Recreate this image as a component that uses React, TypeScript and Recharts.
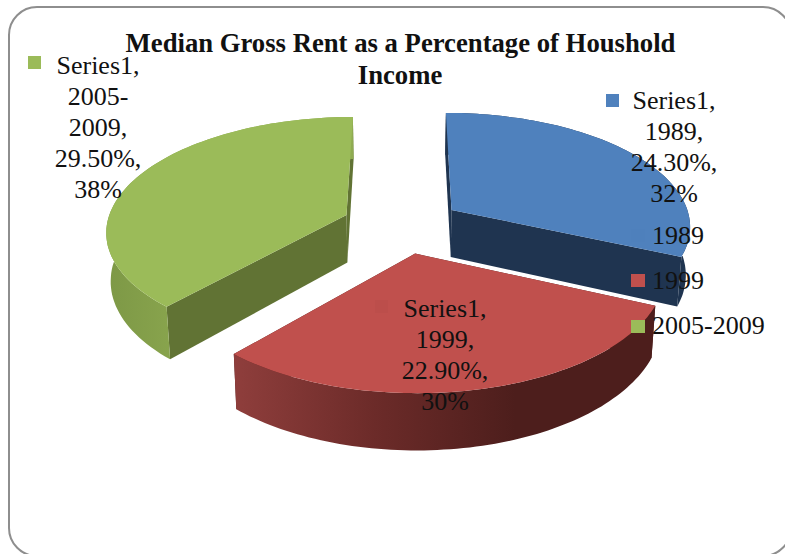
import { PieChart, Pie, Legend, Cell } from 'recharts'

const categories = ['1989', '1999', '2005-2009']
const rentShare = [24.3, 22.9, 29.5]
const shareLabels = ['24.30%', '22.90%', '29.50%']
const percentLabels = ['32%', '30%', '38%']
const seriesName = 'Series1'

const rows = categories.map((name, i) => ({ name, value: rentShare[i] }))

const topColors = ['#4f81bd', '#c0504d', '#9bbb59']
const wallColors = ['#1f3450', '#4d1e1c', '#617334']
const rimStops = [
  ['#1f3450', '#1f3450'],
  ['#8f3e3c', '#6c2b29', '#4d1e1c', '#4d1e1c'],
  ['#7d9846', '#8fab51'],
]
const serif = '"Liberation Serif", "Times New Roman", serif'

// fake 3d: a tilted disc with perspective, slices pulled away from the middle
const EXPLODE = 0.25
const PERSPECTIVE = 0.13
const TILT = 0.472
const DEPTH = 48
const FLOOR_SHRINK = 0.985
const RAD = Math.PI / 180

function Slice3D(props: any) {
  const { cx, cy, outerRadius, startAngle, endAngle, index } = props
  const mid = ((startAngle + endAngle) / 2) * RAD
  const ex = Math.cos(mid) * EXPLODE
  const ey = Math.sin(mid) * EXPLODE

  const project = (deg: number, r: number, floor: boolean) => {
    const X = Math.cos(deg * RAD) * r + ex
    const Y = Math.sin(deg * RAD) * r + ey
    const p = 1 / (1 + PERSPECTIVE * Y)
    let x = outerRadius * X * p
    let y = cy - outerRadius * TILT * Y * p
    if (floor) {
      x *= FLOOR_SHRINK
      y += DEPTH * p
    }
    return [cx + x, y]
  }

  const arc = (floor: boolean) => {
    const pts = []
    const n = 80
    for (let i = 0; i <= n; i++) {
      pts.push(project(startAngle + ((endAngle - startAngle) * i) / n, 1, floor))
    }
    return pts
  }
  const path = (pts: number[][]) =>
    'M' + pts.map((q) => q[0].toFixed(1) + ',' + q[1].toFixed(1)).join('L') + 'Z'

  const top = arc(false)
  const floor = arc(true)
  const apexTop = project(0, 0, false)
  const apexFloor = project(0, 0, true)
  const gradId = 'rim' + index
  const stops = rimStops[index]
  const xs = top.map((q) => q[0])

  return (
    <g>
      <defs>
        <linearGradient
          id={gradId}
          gradientUnits="userSpaceOnUse"
          x1={Math.min(...xs)}
          x2={Math.max(...xs) * (index === 2 ? 0.6 : 1)}
          y1={0}
          y2={0}
        >
          {stops.map((c, i) => (
            <stop key={i} offset={i / (stops.length - 1)} stopColor={c} />
          ))}
        </linearGradient>
      </defs>
      <path d={path([apexTop, top[0], floor[0], apexFloor])} fill={wallColors[index]} />
      <path
        d={path([apexTop, top[top.length - 1], floor[floor.length - 1], apexFloor])}
        fill={wallColors[index]}
      />
      <path d={path([...top, ...[...floor].reverse()])} fill={`url(#${gradId})`} />
      <path d={path([apexTop, ...top])} fill={topColors[index]} />
    </g>
  )
}

const labelSpots = [
  { x: 674, y: 109, sx: 606, sy: 94 },
  { x: 445, y: 317, sx: 375, sy: 300 },
  { x: 98, y: 74, sx: 28, sy: 56 },
]

function SliceLabel(props: any) {
  const i = props.index
  const spot = labelSpots[i]
  const nameLines = categories[i].includes('-')
    ? categories[i].replace('-', '- ').split(' ')
    : [categories[i]]
  const lines = [
    seriesName + ',',
    ...nameLines.map((l, n) => (n === nameLines.length - 1 ? l + ',' : l)),
    shareLabels[i] + ',',
    percentLabels[i],
  ]
  return (
    <g>
      <rect x={spot.sx} y={spot.sy} width={13} height={13} fill={i === 1 ? '#bc4e4b' : topColors[i]} />
      <text x={spot.x} y={spot.y} textAnchor="middle" fontFamily={serif} fontSize={26} fill="#111">
        {lines.map((l, n) => (
          <tspan key={n} x={spot.x} dy={n === 0 ? 0 : 31}>
            {l}
          </tspan>
        ))}
      </text>
    </g>
  )
}

function LegendBox() {
  return (
    <div style={{ fontFamily: serif, fontSize: 26, color: '#111' }}>
      {categories.map((c, i) => (
        <div key={c} style={{ display: 'flex', alignItems: 'center', height: 45.3, lineHeight: '30px' }}>
          <span
            style={{
              width: 14,
              height: 13,
              marginRight: 7,
              background: i === 0 ? '#4e80bc' : topColors[i],
              display: 'inline-block',
            }}
          />
          {c}
        </div>
      ))}
    </div>
  )
}

export default function App() {
  return (
    <div style={{ position: 'fixed', left: 0, top: 0, width: 785, height: 554, overflow: 'hidden', background: '#fff' }}>
      <div
        style={{
          position: 'absolute',
          left: 8,
          top: 6,
          width: 780,
          height: 547,
          border: '2px solid #8e8e8e',
          borderRadius: 29,
        }}
      />
      <div style={{ position: 'absolute', left: 0, top: 0 }}>
        <PieChart width={785} height={554} margin={{ top: 0, right: 0, bottom: 0, left: 0 }}>
          <text x={400.5} y={52} textAnchor="middle" fontFamily={serif} fontWeight="bold" fontSize={26.7} fill="#111">
            Median Gross Rent as a Percentage of Houshold
          </text>
          <text x={400} y={84} textAnchor="middle" fontFamily={serif} fontWeight="bold" fontSize={26.7} fill="#111">
            Income
          </text>
          <Pie
            data={rows}
            dataKey="value"
            nameKey="name"
            cx={402}
            cy={225}
            outerRadius={240}
            startAngle={90}
            endAngle={-270}
            shape={Slice3D}
            label={SliceLabel}
            labelLine={false}
            isAnimationActive={false}
          >
            {rows.map((r, i) => (
              <Cell key={r.name} fill={topColors[i]} />
            ))}
          </Pie>
          <Legend
            layout="vertical"
            content={<LegendBox />}
            wrapperStyle={{ left: 631, top: 213, width: 150, bottom: 'auto', right: 'auto' }}
          />
        </PieChart>
      </div>
    </div>
  )
}
